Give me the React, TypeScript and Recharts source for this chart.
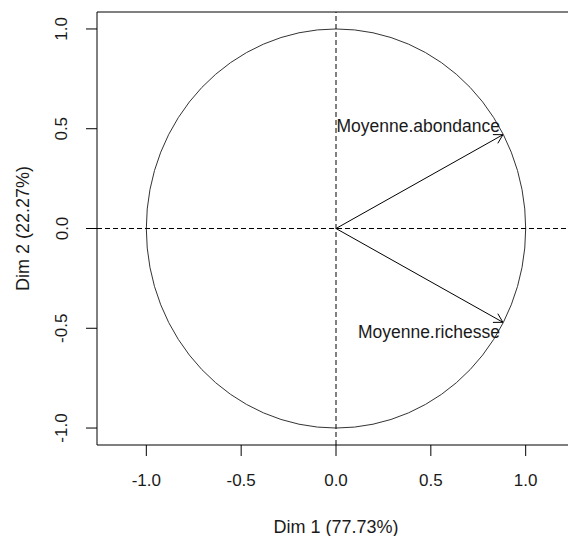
import React from 'react'
import { ScatterChart, Scatter, XAxis, YAxis, ReferenceLine, ReferenceArea } from 'recharts'

const variables = ['Moyenne.abondance', 'Moyenne.richesse']
const dim1 = [0.88, 0.88]
const dim2 = [0.47, -0.47]
const xTicks = [-1, -0.5, 0, 0.5, 1]
const yTicks = [-1, -0.5, 0, 0.5, 1]
const xLabel = 'Dim 1 (77.73%)'
const yLabel = 'Dim 2 (22.27%)'

const xDomain: [number, number] = [-1.26, 1.26]
const yDomain: [number, number] = [-1.085, 1.085]

const points = variables.map((name, i) => ({ name, x: dim1[i], y: dim2[i] }))

const font = '"Liberation Sans", Arial, sans-serif'
const ink = '#1a1a1a'

function Arrow(props: any) {
  const { x1, y1, x2, y2 } = props
  const a = Math.atan2(y2 - y1, x2 - x1)
  const len = 10
  const spread = Math.PI / 6
  const h1 = [x2 - len * Math.cos(a - spread), y2 - len * Math.sin(a - spread)]
  const h2 = [x2 - len * Math.cos(a + spread), y2 - len * Math.sin(a + spread)]
  return (
    <g stroke="#000" strokeWidth={1} fill="none">
      <line x1={x1} y1={y1} x2={x2} y2={y2} />
      <polyline points={`${h1[0]},${h1[1]} ${x2},${y2} ${h2[0]},${h2[1]}`} />
    </g>
  )
}

function Circle(props: any) {
  const { x, y, width, height } = props
  return (
    <ellipse cx={x + width / 2} cy={y + height / 2} rx={width / 2} ry={height / 2} fill="none" stroke="#333" strokeWidth={1} />
  )
}

function VarLabel(props: any) {
  const { cx, cy, payload } = props
  return (
    <text x={cx - 3} y={cy + (payload.y > 0 ? -9 : 10)} textAnchor="end" dominantBaseline="central" fontFamily={font} fontSize={17.5} fill={ink}>
      {payload.name}
    </text>
  )
}

function XTick(props: any) {
  const { x, y, payload } = props
  return (
    <text x={x} y={y + 22} textAnchor="middle" dominantBaseline="central" fontFamily={font} fontSize={17} fill={ink}>
      {payload.value.toFixed(1)}
    </text>
  )
}

function YTick(props: any) {
  const { x, y, payload } = props
  return (
    <text x={x - 22} y={y} textAnchor="middle" dominantBaseline="central" fontFamily={font} fontSize={17} fill={ink} transform={`rotate(-90 ${x - 22} ${y})`}>
      {payload.value.toFixed(1)}
    </text>
  )
}

export default function App() {
  return (
    <div style={{ position: 'absolute', left: 0, top: 0, width: 568, height: 536, overflow: 'hidden', background: '#fff' }}>
      <ScatterChart width={580} height={536} margin={{ top: 12, right: 5, left: 0, bottom: 0 }}>
        <XAxis
          type="number"
          dataKey="x"
          domain={xDomain}
          ticks={xTicks}
          allowDataOverflow
          height={91}
          tickSize={11}
          axisLine={false}
          tickLine={{ stroke: '#000' }}
          tick={<XTick />}
          label={{
            content: (p: any) => (
              <text x={p.viewBox.x + p.viewBox.width / 2} y={p.viewBox.y + 82} textAnchor="middle" dominantBaseline="central" fontFamily={font} fontSize={18} fill={ink}>
                {xLabel}
              </text>
            ),
          }}
        />
        <YAxis
          type="number"
          dataKey="y"
          domain={yDomain}
          ticks={yTicks}
          allowDataOverflow
          width={97}
          tickSize={11}
          axisLine={false}
          tickLine={{ stroke: '#000' }}
          tick={<YTick />}
          label={{
            content: (p: any) => {
              const cy = p.viewBox.y + p.viewBox.height / 2
              return (
                <text x={23} y={cy} textAnchor="middle" dominantBaseline="central" fontFamily={font} fontSize={18} fill={ink} transform={`rotate(-90 23 ${cy})`}>
                  {yLabel}
                </text>
              )
            },
          }}
        />
        <ReferenceArea x1={xDomain[0]} x2={xDomain[1]} y1={yDomain[0]} y2={yDomain[1]} fill="none" stroke="#000" strokeWidth={1} ifOverflow="visible" />
        <ReferenceLine x={0} stroke="#000" strokeDasharray="5 3" />
        <ReferenceLine y={0} stroke="#000" strokeDasharray="5 3" />
        <ReferenceArea x1={-1} x2={1} y1={-1} y2={1} shape={<Circle />} />
        {points.map((p) => (
          <ReferenceLine key={p.name} segment={[{ x: 0, y: 0 }, { x: p.x, y: p.y }]} shape={<Arrow />} />
        ))}
        <Scatter data={points} shape={<VarLabel />} isAnimationActive={false} />
      </ScatterChart>
    </div>
  )
}
